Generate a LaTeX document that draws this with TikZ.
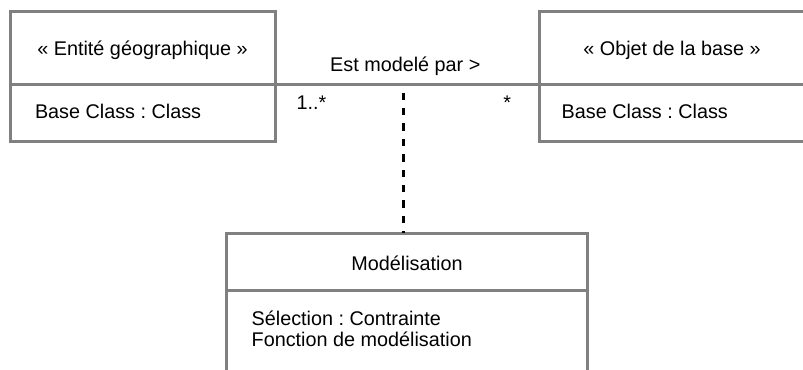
\documentclass[tikz,border=0pt]{standalone}
\usepackage{fontspec}
\setmainfont{Liberation Sans}
\frenchspacing
\definecolor{linegray}{HTML}{808080}
\begin{document}
\begin{tikzpicture}[x=1bp,y=-1bp,
  frame/.style={draw=linegray, line width=3bp, inner sep=0pt, outer sep=0pt, anchor=north west},
  txt/.style={inner sep=0pt, outer sep=0pt, font=\fontsize{19.8bp}{21.7bp}\selectfont, text=black},
  assoc/.style={draw=linegray, line width=3bp},
  dep/.style={draw=black, line width=3bp, dash pattern=on 7.3bp off 8.1bp, dash phase=7.3bp}]
\useasboundingbox (0,0) rectangle (803,369);
\clip (0,0) rectangle (803,369);
% left class
\node[frame, minimum width=265.3bp, minimum height=73.5bp] (lh) at (10.5,11) {};
\node[frame, minimum width=265.3bp, minimum height=57bp] (lb) at (10.5,84.5) {};
% right class
\node[frame, minimum width=265.4bp, minimum height=73.5bp] (rh) at (539.3,11) {};
\node[frame, minimum width=265.4bp, minimum height=57bp] (rb) at (539.3,84.5) {};
% bottom class
\node[frame, minimum width=361.7bp, minimum height=57.4bp] (bh) at (226,233.3) {};
\node[frame, minimum width=361.7bp, minimum height=100bp] (bb) at (226,290.7) {};
% texts
\node[txt, anchor=base] (lht) at (142.5,55) {« Entité géographique »};
\node[txt, anchor=base west] (lbt) at (35,118.3) {Base Class : Class};
\node[txt, anchor=base] (rht) at (672,55) {« Objet de la base »};
\node[txt, anchor=base west] (rbt) at (561.7,118.3) {Base Class : Class};
\node[txt, anchor=base] (bht) at (407,270) {Modélisation};
\node[txt, anchor=base west] (bbt1) at (251.7,325) {Sélection : Contrainte};
\node[txt, anchor=base west] (bbt2) at (251.7,346.7) {Fonction de modélisation};
% association
\draw[assoc] (lh.south east) -- (rh.south west);
\node[txt, anchor=base] (alab) at (405.3,71.7) {Est modelé par >};
\node[txt, anchor=base west] (m1) at (296.7,109) {1..*};
\node[txt, anchor=base west] (m2) at (503.3,109) {*};
% dependency
\coordinate (mid) at (403,84.5);
\draw[dep] (mid) -- (mid |- bh.north);
\end{tikzpicture}
\end{document}
